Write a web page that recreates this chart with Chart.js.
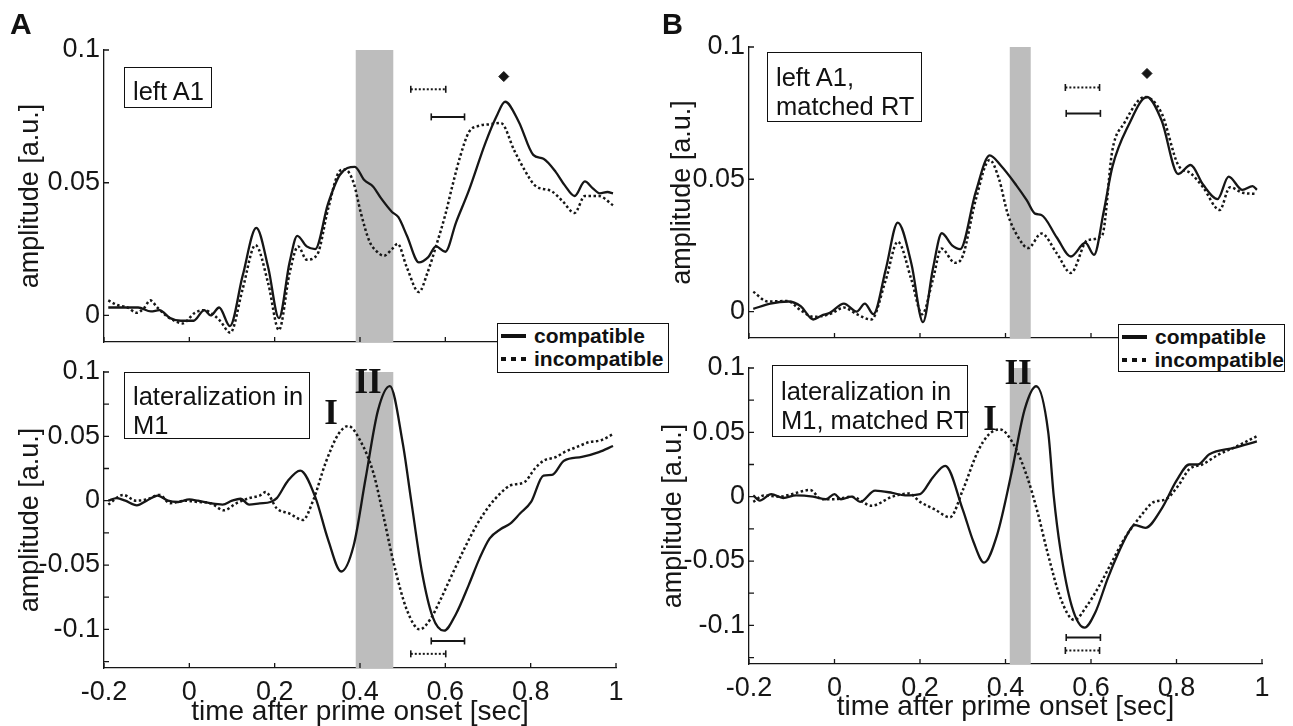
<!DOCTYPE html>
<html>
<head>
<meta charset="utf-8">
<script src="https://cdn.jsdelivr.net/npm/chart.js@4.4.0/dist/chart.umd.min.js"></script>
<style>
  body { margin: 0; width: 1293px; height: 726px; overflow: hidden; background: #fff; position: relative;
         font-family: "Liberation Sans", Arial, sans-serif; color: #111; }
  canvas { position: absolute; }
  .note { position: absolute; box-sizing: border-box; border: 1.3px solid #111; font-size: 25.5px; line-height: 29px;
          padding: 10px 0 0 8px; display: flex; flex-direction: column; justify-content: center; white-space: nowrap; }
  .note.one { padding-top: 7px; }
  .legend { position: absolute; box-sizing: border-box; border: 1.3px solid #111; background: #fff;
            font-weight: bold; font-size: 21px; line-height: 23px; z-index: 5; white-space: nowrap; }
  .legend div { display: flex; align-items: center; }
  .sw { display: inline-block; width: 25px; height: 4px; margin: 0 8px 0 3px; }
  .sw.solid { background: #111; }
  .sw.dots { background: repeating-linear-gradient(90deg, #111 0 5px, transparent 5px 10px); }
  .roman { position: absolute; font-family: "Liberation Serif", "Times New Roman", serif; font-weight: bold;
           font-size: 35px; line-height: 35px; transform: translateX(-50%); }
  .letter { position: absolute; font-weight: bold; font-size: 30px; line-height: 30px; }
</style>
</head>
<body>
<canvas id="aTop" width="636" height="340" style="left:10px;top:26px"></canvas>
<canvas id="aBot" width="636" height="381" style="left:10px;top:348px"></canvas>
<canvas id="bTop" width="637" height="339" style="left:655px;top:23px"></canvas>
<canvas id="bBot" width="637" height="380" style="left:655px;top:344px"></canvas>

<div class="letter" style="left:10px;top:9px">A</div>
<div class="letter" style="left:662px;top:9px;font-size:29px">B</div>

<div class="note one" style="left:124px;top:67px;width:88px;height:41px"><span>left A1</span></div>
<div class="note" style="left:124px;top:372px;width:186px;height:67px"><span>lateralization in</span><span>M1</span></div>
<div class="note" style="left:767px;top:52px;width:155px;height:70px"><span>left A1,</span><span>matched RT</span></div>
<div class="note" style="left:772px;top:365px;width:196px;height:72px"><span>lateralization in</span><span>M1, matched RT</span></div>

<div class="legend" style="left:497px;top:323px;width:172px;height:50px">
  <div><span class="sw solid"></span>compatible</div>
  <div><span class="sw dots"></span>incompatible</div>
</div>
<div class="legend" style="left:1118px;top:324px;width:167px;height:48px">
  <div><span class="sw solid"></span>compatible</div>
  <div><span class="sw dots"></span>incompatible</div>
</div>

<div class="roman" style="left:331px;top:395px">I</div>
<div class="roman" style="left:368px;top:364px">II</div>
<div class="roman" style="left:990px;top:401px">I</div>
<div class="roman" style="left:1018px;top:355px">II</div>

<script>
// axes
const timeTicks = [-0.2, 0, 0.2, 0.4, 0.6, 0.8, 1];
const timeLabels = ['-0.2', '0', '0.2', '0.4', '0.6', '0.8', '1'];
const topTicks = [0, 0.05, 0.1];
const topLabels = ['0', '0.05', '0.1'];
const lowTicks = [-0.125, -0.1, -0.075, -0.05, -0.025, 0, 0.025, 0.05, 0.075, 0.1];
const lowLabels = ['', '-0.1', '', '-0.05', '', '0', '', '0.05', '', '0.1'];

// shaded windows [from, to]
const bandA = [0.39, 0.478];
const bandB = [0.41, 0.459];

// A, left A1
const tAtopC = [-0.19, -0.15, -0.12, -0.09, -0.07, -0.045, -0.02, 0.01, 0.035, 0.05, 0.07, 0.095, 0.125, 0.157, 0.185, 0.21, 0.235, 0.253, 0.275, 0.295, 0.325, 0.353, 0.388, 0.41, 0.431, 0.45, 0.475, 0.49, 0.51, 0.538, 0.56, 0.578, 0.6, 0.625, 0.655, 0.694, 0.72, 0.74, 0.772, 0.806, 0.83, 0.859, 0.88, 0.903, 0.927, 0.945, 0.962, 0.98, 0.993];
const vAtopC = [0.003, 0.003, 0.003, 0.0015, 0.002, -0.001, -0.002, -0.002, 0.002, 0.0, 0.003, -0.004, 0.015, 0.033, 0.018, -0.001, 0.02, 0.03, 0.026, 0.025, 0.042, 0.053, 0.056, 0.051, 0.0485, 0.044, 0.039, 0.037, 0.03, 0.02, 0.022, 0.026, 0.024, 0.035, 0.047, 0.065, 0.075, 0.0805, 0.073, 0.0605, 0.059, 0.054, 0.049, 0.045, 0.0505, 0.048, 0.046, 0.0465, 0.046];
const tAtopI = [-0.19, -0.17, -0.145, -0.123, -0.105, -0.092, -0.075, -0.055, -0.035, -0.016, 0.013, 0.035, 0.05, 0.072, 0.096, 0.125, 0.155, 0.185, 0.21, 0.235, 0.255, 0.275, 0.3, 0.325, 0.353, 0.365, 0.385, 0.402, 0.422, 0.44, 0.456, 0.475, 0.488, 0.51, 0.538, 0.558, 0.578, 0.6, 0.616, 0.635, 0.655, 0.68, 0.704, 0.73, 0.762, 0.785, 0.81, 0.85, 0.875, 0.903, 0.927, 0.96, 0.993];
const vAtopI = [0.0057, 0.004, 0.003, 0.001, 0.003, 0.0057, 0.003, 0.0, -0.002, -0.003, 0.001, 0.002, 0.001, -0.002, -0.0065, 0.01, 0.0265, 0.012, -0.0055, 0.016, 0.026, 0.021, 0.023, 0.04, 0.0545, 0.055, 0.05, 0.0386, 0.028, 0.024, 0.0225, 0.025, 0.027, 0.018, 0.0088, 0.016, 0.026, 0.038, 0.0485, 0.06, 0.069, 0.0715, 0.072, 0.0725, 0.062, 0.055, 0.049, 0.0467, 0.043, 0.0386, 0.045, 0.045, 0.0415];

// A, lateralization in M1
const tAbotC = [-0.19, -0.17, -0.15, -0.123, -0.1, -0.074, -0.05, -0.026, 0.0, 0.02, 0.05, 0.078, 0.1, 0.12, 0.14, 0.165, 0.19, 0.205, 0.23, 0.26, 0.295, 0.325, 0.356, 0.385, 0.413, 0.442, 0.47, 0.5, 0.52, 0.545, 0.57, 0.597, 0.625, 0.655, 0.68, 0.704, 0.73, 0.752, 0.775, 0.801, 0.83, 0.85, 0.878, 0.92, 0.96, 0.993];
const vAbotC = [0.0, 0.002, 0.0, -0.0036, 0.0, 0.004, 0.0, -0.001, 0.001, 0.0, -0.002, -0.003, 0.0, 0.0015, -0.003, -0.002, -0.001, 0.002, 0.015, 0.0234, 0.003, -0.03, -0.055, -0.035, 0.017, 0.07, 0.089, 0.045, 0.0, -0.055, -0.09, -0.101, -0.088, -0.0654, -0.045, -0.0293, -0.022, -0.0178, -0.01, -0.001, 0.0195, 0.02, 0.031, 0.034, 0.0378, 0.0425];
const tAbotI = [-0.19, -0.155, -0.125, -0.1, -0.07, -0.045, -0.01, 0.02, 0.05, 0.081, 0.11, 0.14, 0.165, 0.179, 0.205, 0.235, 0.266, 0.29, 0.32, 0.35, 0.373, 0.4, 0.431, 0.455, 0.48, 0.51, 0.54, 0.565, 0.587, 0.615, 0.645, 0.675, 0.704, 0.73, 0.752, 0.786, 0.81, 0.83, 0.86, 0.878, 0.91, 0.937, 0.965, 0.993];
const vAbotI = [-0.003, 0.0045, 0.0, 0.001, 0.0045, -0.002, 0.0, -0.001, -0.002, -0.0075, -0.002, 0.002, 0.004, 0.0067, -0.006, -0.01, -0.015, 0.0, 0.03, 0.052, 0.058, 0.047, 0.022, -0.012, -0.05, -0.085, -0.1, -0.092, -0.078, -0.058, -0.037, -0.018, -0.0036, 0.006, 0.0118, 0.0146, 0.025, 0.031, 0.034, 0.0375, 0.042, 0.0455, 0.047, 0.0517];

// B, left A1 matched RT
const tBtopC = [-0.19, -0.15, -0.108, -0.079, -0.05, -0.03, -0.011, 0.022, 0.052, 0.071, 0.091, 0.12, 0.148, 0.18, 0.207, 0.23, 0.251, 0.275, 0.294, 0.33, 0.363, 0.39, 0.425, 0.45, 0.469, 0.484, 0.52, 0.553, 0.587, 0.607, 0.63, 0.65, 0.688, 0.731, 0.765, 0.804, 0.833, 0.862, 0.896, 0.922, 0.954, 0.978, 0.988];
const vBtopC = [0.001, 0.003, 0.0038, 0.002, -0.003, -0.0015, -0.0005, 0.003, 0.0, 0.003, -0.001, 0.016, 0.0336, 0.018, -0.004, 0.016, 0.0296, 0.025, 0.0236, 0.045, 0.059, 0.055, 0.0478, 0.042, 0.037, 0.0365, 0.028, 0.0208, 0.026, 0.0214, 0.038, 0.0547, 0.0705, 0.0811, 0.0723, 0.052, 0.0554, 0.048, 0.0425, 0.051, 0.046, 0.0474, 0.046];
const tBtopI = [-0.19, -0.156, -0.11, -0.08, -0.05, -0.011, 0.022, 0.052, 0.086, 0.12, 0.148, 0.18, 0.205, 0.23, 0.25, 0.282, 0.3, 0.33, 0.363, 0.385, 0.405, 0.43, 0.453, 0.484, 0.52, 0.553, 0.592, 0.626, 0.65, 0.678, 0.726, 0.765, 0.804, 0.833, 0.862, 0.901, 0.925, 0.955, 0.988];
const vBtopI = [0.0075, 0.0038, 0.004, 0.0006, -0.002, -0.001, 0.0015, -0.001, -0.003, 0.012, 0.0264, 0.012, -0.001, 0.012, 0.0238, 0.0184, 0.021, 0.042, 0.0573, 0.05, 0.037, 0.028, 0.024, 0.0295, 0.022, 0.0146, 0.027, 0.0288, 0.061, 0.0713, 0.0811, 0.075, 0.0554, 0.0523, 0.047, 0.0384, 0.047, 0.0449, 0.0445];

// B, lateralization in M1 matched RT
const tBbotC = [-0.19, -0.175, -0.148, -0.12, -0.09, -0.05, -0.02, 0.0, 0.015, 0.04, 0.06, 0.095, 0.135, 0.165, 0.2, 0.23, 0.259, 0.3, 0.325, 0.35, 0.38, 0.415, 0.445, 0.472, 0.5, 0.513, 0.528, 0.555, 0.585, 0.61, 0.639, 0.665, 0.688, 0.702, 0.727, 0.765, 0.8, 0.83, 0.85, 0.877, 0.935, 0.988];
const vBbotC = [0.001, -0.003, 0.002, -0.001, 0.001, 0.0, -0.002, 0.002, -0.002, 0.0, -0.004, 0.0047, 0.003, 0.001, 0.002, 0.015, 0.024, -0.01, -0.035, -0.0512, -0.03, 0.02, 0.068, 0.0858, 0.05, 0.0, -0.04, -0.085, -0.1017, -0.09, -0.0636, -0.043, -0.0275, -0.022, -0.0242, -0.0095, 0.0124, 0.025, 0.025, 0.033, 0.038, 0.043];
const tBbotI = [-0.19, -0.165, -0.13, -0.1, -0.057, -0.03, 0.0, 0.04, 0.087, 0.135, 0.175, 0.2, 0.235, 0.27, 0.3, 0.335, 0.36, 0.387, 0.42, 0.45, 0.475, 0.498, 0.53, 0.561, 0.59, 0.62, 0.65, 0.678, 0.717, 0.746, 0.775, 0.804, 0.83, 0.86, 0.9, 0.94, 0.988];
const vBbotI = [-0.004, 0.001, 0.0, 0.002, 0.0052, -0.002, -0.002, 0.0, -0.007, 0.0, 0.0025, -0.004, -0.01, -0.016, 0.005, 0.035, 0.048, 0.0523, 0.04, 0.016, -0.012, -0.043, -0.08, -0.0958, -0.085, -0.0688, -0.05, -0.0327, -0.0147, -0.0043, -0.002, 0.0085, 0.0214, 0.025, 0.033, 0.039, 0.047];

// latency intervals [from, to, level] and peak markers [time, level]
const errAtopC = [0.567, 0.645, 0.0748];
const errAtopI = [0.519, 0.601, 0.0852];
const errAbotC = [0.567, 0.645, -0.109];
const errAbotI = [0.519, 0.601, -0.119];
const errBtopC = [0.542, 0.622, 0.0749];
const errBtopI = [0.54, 0.62, 0.0847];
const errBbotC = [0.542, 0.622, -0.1094];
const errBbotI = [0.54, 0.62, -0.1195];
const peakA = [0.737, 0.09];
const peakB = [0.731, 0.09];

const ink = '#161616';
const pts = (t, v) => t.map((x, i) => ({x: x, y: v[i]}));

function curve(t, v, dotted) {
  return {
    data: pts(t, v), borderColor: ink, borderWidth: dotted ? 2.5 : 2.3, pointRadius: 0,
    cubicInterpolationMode: 'monotone', borderDash: dotted ? [2.5, 2.5] : []
  };
}

function interval(e, dotted) {
  return {
    data: [{x: e[0], y: e[2]}, {x: e[1], y: e[2]}], borderColor: ink, borderWidth: dotted ? 2 : 2,
    borderDash: dotted ? [2, 2] : [], pointStyle: 'line', pointRotation: 90,
    pointRadius: 3.5, pointBorderWidth: 1.6, pointBorderColor: ink
  };
}

function marker(p) {
  return {
    data: [{x: p[0], y: p[1]}], showLine: false, pointStyle: 'rectRot', pointRadius: 5,
    pointBackgroundColor: ink, pointBorderColor: ink
  };
}

const bandPlugin = {
  id: 'band',
  beforeDatasetsDraw(chart, args, opts) {
    const {ctx, chartArea, scales: {x, y}} = chart;
    const x0 = x.getPixelForValue(opts.range[0]);
    const x1 = x.getPixelForValue(opts.range[1]);
    const y0 = y.getPixelForValue(0.1);
    ctx.save();
    ctx.fillStyle = '#bdbdbd';
    ctx.fillRect(x0, y0, x1 - x0, chartArea.bottom - y0);
    ctx.restore();
  }
};

// matlab style ticks pointing into the axes
const inwardTicks = {
  id: 'inwardTicks',
  afterDraw(chart) {
    const {ctx, chartArea: a, scales: {x, y}} = chart;
    ctx.save();
    ctx.strokeStyle = ink;
    ctx.lineWidth = 1.3;
    ctx.beginPath();
    y.ticks.forEach(t => { const p = y.getPixelForValue(t.value); ctx.moveTo(a.left, p); ctx.lineTo(a.left + 5, p); });
    x.ticks.forEach(t => { const p = x.getPixelForValue(t.value); ctx.moveTo(p, a.bottom); ctx.lineTo(p, a.bottom - 5); });
    ctx.stroke();
    ctx.restore();
  }
};

function panel(id, cfg) {
  const font = {family: '"Liberation Sans", Arial, sans-serif', size: 27};
  const xfont = {family: '"Liberation Sans", Arial, sans-serif', size: 28};
  new Chart(document.getElementById(id), {
    type: 'line',
    data: {datasets: cfg.datasets},
    plugins: [bandPlugin, inwardTicks],
    options: {
      responsive: false, animation: false, devicePixelRatio: 1,
      layout: {padding: {top: 24, right: 30, left: 0, bottom: 0}},
      plugins: {legend: {display: false}, tooltip: {enabled: false}, band: {range: cfg.band}},
      scales: {
        x: {
          type: 'linear', min: -0.2, max: 1,
          afterBuildTicks: s => { s.ticks = timeTicks.map(v => ({value: v})); },
          afterFit: s => { s.height = cfg.xh; },
          grid: {display: false, drawTicks: false},
          border: {display: true, color: ink, width: 1.3},
          ticks: {display: cfg.xlabels, autoSkip: false, maxRotation: 0, padding: 8, color: ink, font: font,
                  callback: (v, i) => timeLabels[i]},
          title: {display: cfg.xlabels, text: 'time after prime onset [sec]', color: ink, font: xfont,
                  padding: {top: 0, bottom: 0}}
        },
        y: {
          type: 'linear', min: cfg.ymin, max: 0.1,
          afterBuildTicks: s => { s.ticks = cfg.yt.map(v => ({value: v})); },
          afterFit: s => { s.width = 94; },
          grid: {display: false, drawTicks: false},
          border: {display: true, color: ink, width: 1.3},
          ticks: {autoSkip: false, padding: 4, color: ink, font: font, callback: (v, i) => cfg.yl[i]},
          title: {display: true, text: 'amplitude [a.u.]', color: ink, font: font,
                  padding: {top: cfg.tgap, bottom: 0}}
        }
      }
    }
  });
}

panel('aTop', {
  band: bandA, ymin: -0.01, yt: topTicks, yl: topLabels, xh: 24, xlabels: false, tgap: 4,
  datasets: [curve(tAtopC, vAtopC, false), curve(tAtopI, vAtopI, true),
             interval(errAtopC, false), interval(errAtopI, true), marker(peakA)]
});
panel('aBot', {
  band: bandA, ymin: -0.13, yt: lowTicks, yl: lowLabels, xh: 61, xlabels: true, tgap: 4,
  datasets: [curve(tAbotC, vAbotC, false), curve(tAbotI, vAbotI, true),
             interval(errAbotC, false), interval(errAbotI, true)]
});
panel('bTop', {
  band: bandB, ymin: -0.01, yt: topTicks, yl: topLabels, xh: 24, xlabels: false, tgap: 11,
  datasets: [curve(tBtopC, vBtopC, false), curve(tBtopI, vBtopI, true),
             interval(errBtopC, false), interval(errBtopI, true), marker(peakB)]
});
panel('bBot', {
  band: bandB, ymin: -0.13, yt: lowTicks, yl: lowLabels, xh: 60, xlabels: true, tgap: 2,
  datasets: [curve(tBbotC, vBbotC, false), curve(tBbotI, vBbotI, true),
             interval(errBbotC, false), interval(errBbotI, true)]
});
</script>
</body>
</html>
